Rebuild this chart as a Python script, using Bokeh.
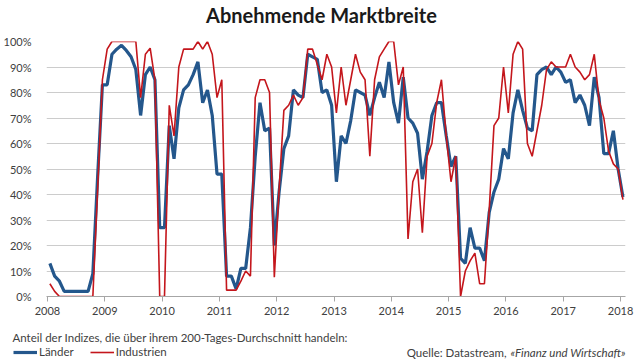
from bokeh.plotting import figure
from bokeh.layouts import column
from bokeh.models import Legend, LegendItem, FixedTicker, PrintfTickFormatter, Range1d, ColumnDataSource
from bokeh.core.properties import value
from bokeh.embed import file_html
from bokeh.resources import INLINE

# Monthly observations, Jan 2008 .. Jan 2018 (share of indices above their 200-day average, %)
laender = [13, 8, 6, 2, 2, 2, 2, 2, 2, 9,
           47, 83, 83, 95, 97, 98.5, 96.5, 94, 89, 71,
           87, 90, 85, 27, 27, 67, 54, 74, 81, 83,
           87, 92, 76, 81, 71, 48, 48, 8, 8, 3,
           11, 11, 27, 55, 76, 65, 66, 20, 41, 58,
           63, 81, 79, 78, 95, 94, 93, 80, 81, 75,
           45, 63, 60, 69, 81, 80, 79, 71, 78, 84,
           78, 92, 76, 68, 86, 70, 68, 64, 46, 57,
           71, 76, 76, 63, 51, 55, 15, 13, 27, 19,
           19, 14, 33, 41, 46, 58, 54, 72, 81, 73,
           66, 65, 87, 89, 90, 87, 90, 88, 84, 85,
           76, 79, 75, 67, 86, 78, 56, 56, 65, 50,
           39]
industrien = [5, 2, 0, 0, 0, 0, 0, 0, 0, 0,
              42, 85, 97, 100, 100, 100, 100, 100, 100, 78,
              95, 97.4, 85, 0, 0, 75, 63, 90, 97, 97,
              97, 100, 97, 100, 95, 78, 85, 2.5, 2.5, 2.5,
              6, 10, 8, 78, 85, 85, 80, 7.6, 42, 73,
              75, 79, 75, 78, 97, 97, 91, 85, 95, 90,
              72, 90, 75, 85, 95, 88, 85, 55, 85, 94,
              97, 100, 100, 83, 90, 22.6, 45, 50, 25, 55,
              60, 76, 85, 63, 45, 55, 0, 10, 14, 17,
              5, 5, 34, 67, 70, 90, 72, 95, 100, 97,
              60, 55, 65, 75, 89, 92, 90, 90, 90, 95,
              90, 88, 85, 87, 95, 77, 70, 57, 52, 50,
              38]
year_ticks = [2008, 2009, 2010, 2011, 2012, 2013, 2014, 2015, 2016, 2017, 2018]
pct_ticks = [0, 10, 20, 30, 40, 50, 60, 70, 80, 90, 100]
series_names = ["Länder", "Industrien"]
title_text = "Abnehmende Marktbreite"
note_text = "Anteil der Indizes, die über ihrem 200-Tages-Durchschnitt handeln:"
source_text = "Quelle: Datastream, "
source_pub = "«Finanz und Wirtschaft»"

BLUE = "#24578c"
RED = "#c4161c"
FONT = "Lato"
TXT = "#404040"
W = 640
H_HEAD, H_MAIN, H_FOOT = 33, 287, 40

# mid-month position of each observation
months = [2008 + (i + 0.5) / 12 for i in range(len(laender))]
src = ColumnDataSource(dict(x=months, laender=laender, industrien=industrien))


def blank(h):
    f = figure(width=W, height=h, output_backend="svg", toolbar_location=None,
               x_range=Range1d(0, W), y_range=Range1d(h, 0),
               x_axis_type=None, y_axis_type=None,
               min_border_left=0, min_border_right=0, min_border_top=0, min_border_bottom=0)
    f.frame_align = False
    f.outline_line_color = None
    f.xgrid.visible = False
    f.ygrid.visible = False
    return f


# ---- header with title
head = blank(H_HEAD)
head.text(x=[321], y=[14], text=[title_text], text_font=value(FONT), text_font_size="20px",
          text_font_style="bold", text_color="#1a1a1a", text_align="center", text_baseline="middle")

# ---- main chart
p = figure(width=W, height=H_MAIN, output_backend="svg", toolbar_location=None,
           x_range=Range1d(2008 - 1 / 57.6, 2018 + 5 / 57.6), y_range=Range1d(0, 100),
           min_border_left=43, min_border_right=15, min_border_top=8, min_border_bottom=24)
p.frame_align = False
p.outline_line_color = None
p.xgrid.grid_line_color = None
p.ygrid.grid_line_color = "#cccccc"
p.ygrid.grid_line_width = 1

p.yaxis.ticker = FixedTicker(ticks=pct_ticks)
p.yaxis.formatter = PrintfTickFormatter(format="%d%%")
p.yaxis.axis_line_color = None
p.yaxis.major_tick_line_color = None
p.yaxis.minor_tick_line_color = None
p.yaxis.major_label_standoff = 9
p.yaxis.major_label_text_font = FONT
p.yaxis.major_label_text_font_size = "11px"
p.yaxis.major_label_text_color = TXT

p.xaxis.ticker = FixedTicker(ticks=year_ticks)
p.xaxis.axis_line_color = "#a6a6a6"
p.xaxis.major_tick_line_color = "#a6a6a6"
p.xaxis.major_tick_out = 5
p.xaxis.major_tick_in = 0
p.xaxis.minor_tick_line_color = None
p.xaxis.major_label_standoff = 5
p.xaxis.major_label_text_font = FONT
p.xaxis.major_label_text_font_size = "11px"
p.xaxis.major_label_text_color = TXT

p.line("x", "laender", source=src, line_color=BLUE, line_width=3.2)
p.line("x", "industrien", source=src, line_color=RED, line_width=1.6)

# ---- footer with note, legend and source
foot = blank(H_FOOT)
foot.text(x=[12], y=[17], text=[note_text], text_font=value(FONT), text_font_size="11.5px",
          text_color=TXT, text_align="left", text_baseline="middle")
foot.text(x=[509], y=[32], text=[source_text], text_font=value(FONT), text_font_size="11.5px",
          text_color=TXT, text_align="right", text_baseline="middle")
foot.text(x=[510], y=[32], text=[source_pub], text_font=value(FONT), text_font_size="11.5px",
          text_font_style="italic", text_color=TXT, text_align="left", text_baseline="middle")
nan = float("nan")
lb = foot.line(x=[nan, nan], y=[nan, nan], line_color=BLUE, line_width=3.2)
lr = foot.line(x=[nan, nan], y=[nan, nan], line_color=RED, line_width=1.6)
legend = Legend(items=[LegendItem(label=series_names[0], renderers=[lb]),
                       LegendItem(label=series_names[1], renderers=[lr])],
                orientation="horizontal", location=(13, 2),
                glyph_width=24, glyph_height=12, label_height=12, label_standoff=2, spacing=16,
                padding=0, margin=0, border_line_color=None, background_fill_alpha=0,
                label_text_font=FONT, label_text_font_size="11.5px", label_text_color=TXT)
foot.add_layout(legend, "center")

layout = column(head, p, foot, spacing=0)
open("out.html", "w").write(file_html(layout, INLINE))
